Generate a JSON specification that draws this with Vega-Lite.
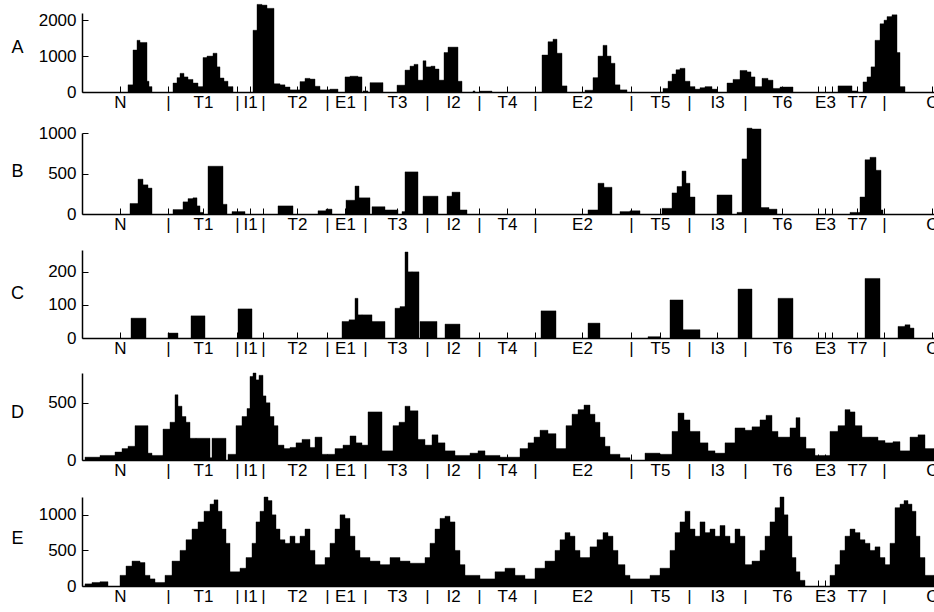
{
  "$schema": "https://vega.github.io/schema/vega-lite/v6.json",
  "padding": {"left": 10, "top": 4, "right": -6, "bottom": 0},
  "background": "white",
  "config": {
    "view": {"stroke": null},
    "font": "Liberation Sans",
    "numberFormat": "d",
    "axis": {
      "grid": false,
      "domainColor": "black",
      "domainWidth": 1.5,
      "tickColor": "black",
      "tickWidth": 1,
      "tickSize": -6,
      "labelColor": "black",
      "labelFont": "Liberation Sans",
      "labelFontSize": 17,
      "labelOverlap": false,
      "labelFlush": false,
      "titleFont": "Liberation Sans",
      "titleFontSize": 18,
      "titleFontWeight": "normal",
      "titleColor": "black"
    },
    "axisX": {"labelPadding": 8},
    "axisY": {"labelPadding": 12, "titleAngle": 0, "titleAlign": "center", "titleBaseline": "middle", "titleX": -65}
  },
  "datasets": {
    "A": [
      {"x0":46,"x1":51,"n":200},{"x0":51,"x1":55,"n":1170},{"x0":55,"x1":58,"n":1440},{"x0":58,"x1":65,"n":1380},{"x0":65,"x1":67,"n":300},{"x0":67,"x1":70,"n":150},
      {"x0":91,"x1":95,"n":250},{"x0":95,"x1":98,"n":400},{"x0":98,"x1":102,"n":520},{"x0":102,"x1":106,"n":420},{"x0":106,"x1":111,"n":350},{"x0":111,"x1":116,"n":250},{"x0":116,"x1":121,"n":150},
      {"x0":121,"x1":125,"n":960},{"x0":125,"x1":131,"n":1000},{"x0":131,"x1":135,"n":1080},{"x0":135,"x1":138,"n":700},{"x0":138,"x1":142,"n":390},{"x0":142,"x1":146,"n":300},{"x0":146,"x1":151,"n":150},
      {"x0":171,"x1":175,"n":1720},{"x0":175,"x1":180,"n":2440},{"x0":180,"x1":185,"n":2420},{"x0":185,"x1":192,"n":2330},{"x0":192,"x1":198,"n":230},{"x0":198,"x1":203,"n":200},{"x0":203,"x1":208,"n":140},{"x0":208,"x1":218,"n":60},
      {"x0":218,"x1":223,"n":290},{"x0":223,"x1":228,"n":380},{"x0":228,"x1":233,"n":360},{"x0":233,"x1":238,"n":160},{"x0":238,"x1":248,"n":60},{"x0":248,"x1":256,"n":80},
      {"x0":263,"x1":268,"n":420},{"x0":268,"x1":276,"n":440},{"x0":276,"x1":280,"n":420},{"x0":281,"x1":286,"n":30},{"x0":288,"x1":301,"n":260},
      {"x0":315,"x1":323,"n":190},{"x0":323,"x1":328,"n":610},{"x0":328,"x1":332,"n":720},{"x0":332,"x1":336,"n":770},{"x0":336,"x1":341,"n":330},{"x0":341,"x1":344,"n":870},{"x0":344,"x1":349,"n":700},{"x0":349,"x1":353,"n":720},{"x0":353,"x1":357,"n":640},{"x0":357,"x1":362,"n":330},
      {"x0":362,"x1":366,"n":1100},{"x0":366,"x1":376,"n":1250},{"x0":376,"x1":380,"n":300},{"x0":391,"x1":393,"n":30},{"x0":398,"x1":410,"n":25},
      {"x0":460,"x1":466,"n":1030},{"x0":466,"x1":471,"n":1400},{"x0":471,"x1":475,"n":1470},{"x0":475,"x1":480,"n":1080},{"x0":480,"x1":485,"n":170},
      {"x0":503,"x1":511,"n":50},{"x0":511,"x1":516,"n":400},{"x0":516,"x1":521,"n":1000},{"x0":521,"x1":525,"n":1300},{"x0":525,"x1":529,"n":1000},{"x0":529,"x1":533,"n":800},{"x0":533,"x1":538,"n":200},{"x0":538,"x1":545,"n":60},
      {"x0":581,"x1":586,"n":100},{"x0":586,"x1":590,"n":300},{"x0":590,"x1":594,"n":500},{"x0":594,"x1":598,"n":620},{"x0":598,"x1":603,"n":660},{"x0":603,"x1":608,"n":300},{"x0":608,"x1":613,"n":150},{"x0":613,"x1":618,"n":80},{"x0":618,"x1":623,"n":120},{"x0":623,"x1":630,"n":150},{"x0":630,"x1":635,"n":80},
      {"x0":645,"x1":651,"n":250},{"x0":651,"x1":658,"n":350},{"x0":658,"x1":665,"n":600},{"x0":665,"x1":669,"n":560},{"x0":669,"x1":673,"n":420},{"x0":673,"x1":680,"n":150},{"x0":680,"x1":686,"n":380},{"x0":686,"x1":691,"n":330},{"x0":691,"x1":698,"n":100},{"x0":698,"x1":711,"n":140},
      {"x0":756,"x1":770,"n":170},{"x0":770,"x1":776,"n":30},
      {"x0":781,"x1":785,"n":280},{"x0":785,"x1":789,"n":420},{"x0":789,"x1":793,"n":700},{"x0":793,"x1":798,"n":1440},{"x0":798,"x1":802,"n":1900},{"x0":802,"x1":805,"n":2000},{"x0":805,"x1":810,"n":2100},{"x0":810,"x1":815,"n":2150},{"x0":815,"x1":818,"n":1100},{"x0":818,"x1":823,"n":150}
    ],
    "B": [
      {"x0":48,"x1":56,"n":130},{"x0":56,"x1":61,"n":430},{"x0":61,"x1":66,"n":360},{"x0":66,"x1":70,"n":320},
      {"x0":91,"x1":101,"n":55},{"x0":101,"x1":106,"n":150},{"x0":106,"x1":111,"n":190},{"x0":111,"x1":115,"n":200},{"x0":115,"x1":118,"n":100},{"x0":118,"x1":121,"n":20},
      {"x0":126,"x1":141,"n":590},{"x0":141,"x1":145,"n":120},{"x0":150,"x1":163,"n":30},{"x0":196,"x1":211,"n":100},
      {"x0":236,"x1":244,"n":40},{"x0":244,"x1":250,"n":60},
      {"x0":264,"x1":273,"n":170},{"x0":273,"x1":277,"n":345},{"x0":277,"x1":288,"n":200},{"x0":290,"x1":303,"n":90},{"x0":303,"x1":316,"n":50},{"x0":320,"x1":323,"n":30},{"x0":323,"x1":336,"n":520},
      {"x0":341,"x1":356,"n":220},{"x0":365,"x1":370,"n":220},{"x0":370,"x1":378,"n":270},{"x0":378,"x1":385,"n":50},
      {"x0":506,"x1":516,"n":50},{"x0":516,"x1":522,"n":380},{"x0":522,"x1":530,"n":330},
      {"x0":538,"x1":548,"n":30},{"x0":548,"x1":558,"n":40},
      {"x0":580,"x1":590,"n":70},{"x0":590,"x1":595,"n":260},{"x0":595,"x1":600,"n":340},{"x0":600,"x1":604,"n":530},{"x0":604,"x1":608,"n":380},{"x0":608,"x1":613,"n":210},
      {"x0":635,"x1":650,"n":235},
      {"x0":655,"x1":660,"n":20},{"x0":660,"x1":665,"n":680},{"x0":665,"x1":670,"n":1060},{"x0":670,"x1":679,"n":1050},{"x0":679,"x1":687,"n":80},{"x0":687,"x1":695,"n":60},
      {"x0":768,"x1":778,"n":20},{"x0":778,"x1":783,"n":210},{"x0":783,"x1":788,"n":670},{"x0":788,"x1":794,"n":700},{"x0":794,"x1":799,"n":540},{"x0":799,"x1":801,"n":50}
    ],
    "C": [
      {"x0":49,"x1":64,"n":60},{"x0":86,"x1":96,"n":15},{"x0":109,"x1":123,"n":67},{"x0":156,"x1":170,"n":88},
      {"x0":260,"x1":267,"n":50},{"x0":267,"x1":273,"n":55},{"x0":273,"x1":276,"n":120},{"x0":276,"x1":280,"n":70},{"x0":280,"x1":290,"n":70},{"x0":290,"x1":303,"n":50},
      {"x0":313,"x1":318,"n":90},{"x0":318,"x1":323,"n":95},{"x0":323,"x1":326,"n":260},{"x0":326,"x1":330,"n":200},{"x0":330,"x1":337,"n":200},{"x0":338,"x1":355,"n":50},
      {"x0":363,"x1":378,"n":42},{"x0":459,"x1":474,"n":82},{"x0":506,"x1":518,"n":45},
      {"x0":566,"x1":578,"n":4},{"x0":588,"x1":601,"n":115},{"x0":601,"x1":618,"n":25},
      {"x0":656,"x1":670,"n":148},{"x0":696,"x1":711,"n":120},{"x0":783,"x1":798,"n":180},
      {"x0":816,"x1":823,"n":35},{"x0":823,"x1":828,"n":40},{"x0":828,"x1":832,"n":30}
    ],
    "D": [
      {"x0":3,"x1":18,"n":25},{"x0":18,"x1":33,"n":40},{"x0":33,"x1":40,"n":70},{"x0":40,"x1":46,"n":100},{"x0":46,"x1":53,"n":120},{"x0":53,"x1":66,"n":300},{"x0":66,"x1":70,"n":60},{"x0":70,"x1":81,"n":40},
      {"x0":81,"x1":88,"n":270},{"x0":88,"x1":93,"n":330},{"x0":93,"x1":96,"n":570},{"x0":96,"x1":100,"n":470},{"x0":100,"x1":104,"n":380},{"x0":104,"x1":108,"n":330},{"x0":108,"x1":114,"n":190},{"x0":114,"x1":128,"n":190},{"x0":128,"x1":130,"n":20},{"x0":130,"x1":144,"n":190},
      {"x0":146,"x1":154,"n":50},{"x0":154,"x1":160,"n":300},{"x0":160,"x1":165,"n":380},{"x0":165,"x1":168,"n":450},{"x0":168,"x1":171,"n":730},{"x0":171,"x1":174,"n":760},{"x0":174,"x1":177,"n":700},{"x0":177,"x1":181,"n":740},{"x0":181,"x1":184,"n":560},{"x0":184,"x1":188,"n":500},{"x0":188,"x1":192,"n":380},{"x0":192,"x1":196,"n":300},
      {"x0":196,"x1":202,"n":130},{"x0":202,"x1":208,"n":100},{"x0":208,"x1":214,"n":110},{"x0":214,"x1":220,"n":150},{"x0":220,"x1":228,"n":180},{"x0":228,"x1":233,"n":110},{"x0":233,"x1":240,"n":200},{"x0":240,"x1":253,"n":50},
      {"x0":253,"x1":261,"n":100},{"x0":261,"x1":268,"n":130},{"x0":268,"x1":274,"n":210},{"x0":274,"x1":280,"n":150},{"x0":280,"x1":286,"n":130},{"x0":286,"x1":300,"n":420},{"x0":300,"x1":311,"n":80},
      {"x0":311,"x1":317,"n":300},{"x0":317,"x1":323,"n":330},{"x0":323,"x1":328,"n":470},{"x0":328,"x1":336,"n":430},{"x0":336,"x1":343,"n":180},{"x0":343,"x1":350,"n":130},{"x0":350,"x1":356,"n":220},{"x0":356,"x1":363,"n":150},{"x0":363,"x1":373,"n":80},
      {"x0":373,"x1":388,"n":40},{"x0":388,"x1":396,"n":60},{"x0":396,"x1":403,"n":80},{"x0":403,"x1":418,"n":40},{"x0":418,"x1":438,"n":25},
      {"x0":438,"x1":446,"n":100},{"x0":446,"x1":452,"n":150},{"x0":452,"x1":458,"n":200},{"x0":458,"x1":466,"n":260},{"x0":466,"x1":474,"n":230},{"x0":474,"x1":484,"n":100},
      {"x0":484,"x1":490,"n":300},{"x0":490,"x1":496,"n":400},{"x0":496,"x1":502,"n":440},{"x0":502,"x1":508,"n":480},{"x0":508,"x1":513,"n":400},{"x0":513,"x1":518,"n":330},{"x0":518,"x1":523,"n":200},{"x0":523,"x1":528,"n":120},{"x0":528,"x1":538,"n":50},{"x0":538,"x1":548,"n":20},
      {"x0":563,"x1":578,"n":60},{"x0":578,"x1":590,"n":50},
      {"x0":590,"x1":596,"n":250},{"x0":596,"x1":602,"n":410},{"x0":602,"x1":608,"n":350},{"x0":608,"x1":618,"n":250},{"x0":618,"x1":626,"n":150},{"x0":626,"x1":633,"n":80},{"x0":633,"x1":643,"n":60},
      {"x0":643,"x1":653,"n":150},{"x0":653,"x1":663,"n":280},{"x0":663,"x1":670,"n":260},{"x0":670,"x1":678,"n":290},{"x0":678,"x1":684,"n":350},{"x0":684,"x1":690,"n":390},{"x0":690,"x1":696,"n":250},{"x0":696,"x1":708,"n":200},{"x0":708,"x1":714,"n":280},{"x0":714,"x1":718,"n":370},{"x0":718,"x1":724,"n":200},{"x0":724,"x1":733,"n":100},{"x0":733,"x1":748,"n":40},
      {"x0":748,"x1":756,"n":250},{"x0":756,"x1":763,"n":300},{"x0":763,"x1":768,"n":440},{"x0":768,"x1":773,"n":420},{"x0":773,"x1":780,"n":300},{"x0":780,"x1":788,"n":200},{"x0":788,"x1":796,"n":200},{"x0":796,"x1":803,"n":170},{"x0":803,"x1":811,"n":150},{"x0":811,"x1":818,"n":160},{"x0":818,"x1":828,"n":80},
      {"x0":828,"x1":836,"n":200},{"x0":836,"x1":843,"n":220},{"x0":843,"x1":852,"n":100}
    ],
    "E": [
      {"x0":3,"x1":10,"n":30},{"x0":10,"x1":18,"n":50},{"x0":18,"x1":26,"n":60},
      {"x0":38,"x1":44,"n":150},{"x0":44,"x1":50,"n":280},{"x0":50,"x1":58,"n":350},{"x0":58,"x1":63,"n":330},{"x0":63,"x1":68,"n":150},{"x0":68,"x1":73,"n":100},{"x0":73,"x1":83,"n":50},
      {"x0":83,"x1":90,"n":150},{"x0":90,"x1":98,"n":350},{"x0":98,"x1":104,"n":500},{"x0":104,"x1":110,"n":650},{"x0":110,"x1":116,"n":800},{"x0":116,"x1":122,"n":900},{"x0":122,"x1":128,"n":1050},{"x0":128,"x1":132,"n":1150},{"x0":132,"x1":136,"n":1210},{"x0":136,"x1":140,"n":1050},{"x0":140,"x1":144,"n":800},{"x0":144,"x1":148,"n":600},{"x0":148,"x1":158,"n":200},
      {"x0":158,"x1":164,"n":250},{"x0":164,"x1":170,"n":400},{"x0":170,"x1":174,"n":600},{"x0":174,"x1":178,"n":900},{"x0":178,"x1":182,"n":1050},{"x0":182,"x1":186,"n":1250},{"x0":186,"x1":190,"n":1200},{"x0":190,"x1":194,"n":1000},{"x0":194,"x1":198,"n":800},{"x0":198,"x1":203,"n":650},{"x0":203,"x1":208,"n":600},{"x0":208,"x1":213,"n":700},{"x0":213,"x1":218,"n":600},{"x0":218,"x1":223,"n":700},{"x0":223,"x1":228,"n":800},{"x0":228,"x1":233,"n":500},{"x0":233,"x1":243,"n":300},
      {"x0":243,"x1":248,"n":400},{"x0":248,"x1":253,"n":600},{"x0":253,"x1":258,"n":800},{"x0":258,"x1":263,"n":1000},{"x0":263,"x1":268,"n":950},{"x0":268,"x1":273,"n":700},{"x0":273,"x1":278,"n":500},{"x0":278,"x1":288,"n":400},{"x0":288,"x1":298,"n":350},{"x0":298,"x1":308,"n":300},{"x0":308,"x1":318,"n":400},{"x0":318,"x1":328,"n":350},{"x0":328,"x1":343,"n":320},
      {"x0":343,"x1":348,"n":400},{"x0":348,"x1":353,"n":600},{"x0":353,"x1":358,"n":800},{"x0":358,"x1":363,"n":950},{"x0":363,"x1":368,"n":980},{"x0":368,"x1":373,"n":900},{"x0":373,"x1":378,"n":500},{"x0":378,"x1":383,"n":300},{"x0":383,"x1":398,"n":150},{"x0":398,"x1":413,"n":100},
      {"x0":413,"x1":423,"n":200},{"x0":423,"x1":433,"n":250},{"x0":433,"x1":443,"n":150},{"x0":443,"x1":453,"n":100},{"x0":453,"x1":463,"n":250},{"x0":463,"x1":473,"n":350},{"x0":473,"x1":478,"n":500},{"x0":478,"x1":483,"n":650},{"x0":483,"x1":488,"n":750},{"x0":488,"x1":493,"n":700},{"x0":493,"x1":498,"n":500},{"x0":498,"x1":508,"n":400},
      {"x0":508,"x1":515,"n":550},{"x0":515,"x1":521,"n":650},{"x0":521,"x1":526,"n":750},{"x0":526,"x1":531,"n":700},{"x0":531,"x1":536,"n":500},{"x0":536,"x1":543,"n":300},{"x0":543,"x1":548,"n":150},{"x0":548,"x1":568,"n":100},{"x0":568,"x1":578,"n":150},{"x0":578,"x1":588,"n":250},
      {"x0":588,"x1":593,"n":500},{"x0":593,"x1":598,"n":750},{"x0":598,"x1":603,"n":900},{"x0":603,"x1":608,"n":1050},{"x0":608,"x1":613,"n":800},{"x0":613,"x1":618,"n":700},{"x0":618,"x1":623,"n":900},{"x0":623,"x1":628,"n":750},{"x0":628,"x1":633,"n":800},{"x0":633,"x1":638,"n":700},{"x0":638,"x1":643,"n":850},{"x0":643,"x1":648,"n":700},{"x0":648,"x1":653,"n":600},{"x0":653,"x1":658,"n":800},{"x0":658,"x1":663,"n":700},{"x0":663,"x1":670,"n":300},
      {"x0":670,"x1":678,"n":350},{"x0":678,"x1":683,"n":500},{"x0":683,"x1":688,"n":700},{"x0":688,"x1":693,"n":900},{"x0":693,"x1":698,"n":1100},{"x0":698,"x1":702,"n":1250},{"x0":702,"x1":706,"n":1000},{"x0":706,"x1":710,"n":700},{"x0":710,"x1":714,"n":400},{"x0":714,"x1":718,"n":200},{"x0":718,"x1":723,"n":80},
      {"x0":748,"x1":753,"n":150},{"x0":753,"x1":758,"n":300},{"x0":758,"x1":763,"n":500},{"x0":763,"x1":768,"n":700},{"x0":768,"x1":773,"n":800},{"x0":773,"x1":778,"n":750},{"x0":778,"x1":783,"n":650},{"x0":783,"x1":788,"n":600},{"x0":788,"x1":793,"n":500},{"x0":793,"x1":798,"n":550},{"x0":798,"x1":803,"n":400},{"x0":803,"x1":808,"n":300},
      {"x0":808,"x1":813,"n":600},{"x0":813,"x1":818,"n":1100},{"x0":818,"x1":822,"n":1150},{"x0":822,"x1":826,"n":1200},{"x0":826,"x1":830,"n":1150},{"x0":830,"x1":834,"n":1050},{"x0":834,"x1":838,"n":700},{"x0":838,"x1":843,"n":400},{"x0":843,"x1":852,"n":150}
    ]
  },
  "bounds": "flush",
  "spacing": 41,
  "vconcat": [
    {
      "data": {"name": "A"},
      "width": 858, "height": 79,
      "mark": {"type": "rect", "color": "black", "stroke": "black", "strokeWidth": 0.4},
      "encoding": {
        "x": {"field": "x0", "type": "quantitative", "scale": {"domain": [0, 858], "nice": false, "zero": false},
              "axis": {"title": null, "values": [38,86,121,155,168,181,215,245,263,283,315,345,371,397,425,453,500,549,578,607,635,663,700,736,743,750,775,802,850],
                       "labelExpr": "['N','|','T1','|','I1','|','T2','|','E1','|','T3','|','I2','|','T4','|','E2','|','T5','|','I3','|','T6','','E3','','T7','|','C'][indexof([38,86,121,155,168,181,215,245,263,283,315,345,371,397,425,453,500,549,578,607,635,663,700,736,743,750,775,802,850], datum.value)]"}},
        "x2": {"field": "x1"},
        "y": {"field": "n", "type": "quantitative", "scale": {"domain": [0, 2200], "nice": false},
              "axis": {"title": "A", "titleY": 34, "values": [0, 1000, 2000], "format": "d"}},
        "y2": {"datum": 0}
      }
    },
    {
      "bounds": "flush",
      "spacing": 36,
      "vconcat": [
        {
          "data": {"name": "B"},
          "width": 858, "height": 81,
          "mark": {"type": "rect", "color": "black", "stroke": "black", "strokeWidth": 0.4},
          "encoding": {
            "x": {"field": "x0", "type": "quantitative", "scale": {"domain": [0, 858], "nice": false, "zero": false},
                  "axis": {"title": null, "values": [38,86,121,155,168,181,215,245,263,283,315,345,371,397,425,453,500,549,578,607,635,663,700,736,743,750,775,802,850],
                           "labelExpr": "['N','|','T1','|','I1','|','T2','|','E1','|','T3','|','I2','|','T4','|','E2','|','T5','|','I3','|','T6','','E3','','T7','|','C'][indexof([38,86,121,155,168,181,215,245,263,283,315,345,371,397,425,453,500,549,578,607,635,663,700,736,743,750,775,802,850], datum.value)]"}},
            "x2": {"field": "x1"},
            "y": {"field": "n", "type": "quantitative", "scale": {"domain": [0, 1000], "nice": false},
                  "axis": {"title": "B", "titleY": 38, "values": [0, 500, 1000], "format": "d"}},
            "y2": {"datum": 0}
          }
        },
        {
          "bounds": "flush",
          "spacing": 35,
          "vconcat": [
            {
              "data": {"name": "C"},
              "width": 858, "height": 88,
              "mark": {"type": "rect", "color": "black", "stroke": "black", "strokeWidth": 0.4},
              "encoding": {
                "x": {"field": "x0", "type": "quantitative", "scale": {"domain": [0, 858], "nice": false, "zero": false},
                      "axis": {"title": null, "values": [38,86,121,155,168,181,215,245,263,283,315,345,371,397,425,453,500,549,578,607,635,663,700,736,743,750,775,802,850],
                               "labelExpr": "['N','|','T1','|','I1','|','T2','|','E1','|','T3','|','I2','|','T4','|','E2','|','T5','|','I3','|','T6','','E3','','T7','|','C'][indexof([38,86,121,155,168,181,215,245,263,283,315,345,371,397,425,453,500,549,578,607,635,663,700,736,743,750,775,802,850], datum.value)]"}},
                "x2": {"field": "x1"},
                "y": {"field": "n", "type": "quantitative", "scale": {"domain": [0, 266], "nice": false},
                      "axis": {"title": "C", "titleY": 43, "values": [0, 100, 200], "format": "d"}},
                "y2": {"datum": 0}
              }
            },
            {
              "bounds": "flush",
              "spacing": 37,
              "vconcat": [
                {
                  "data": {"name": "D"},
                  "width": 858, "height": 87,
                  "mark": {"type": "rect", "color": "black", "stroke": "black", "strokeWidth": 0.4},
                  "encoding": {
                    "x": {"field": "x0", "type": "quantitative", "scale": {"domain": [0, 858], "nice": false, "zero": false},
                          "axis": {"title": null, "values": [38,86,121,155,168,181,215,245,263,283,315,345,371,397,425,453,500,549,578,607,635,663,700,736,743,750,775,802,850],
                                   "labelExpr": "['N','|','T1','|','I1','|','T2','|','E1','|','T3','|','I2','|','T4','|','E2','|','T5','|','I3','|','T6','','E3','','T7','|','C'][indexof([38,86,121,155,168,181,215,245,263,283,315,345,371,397,425,453,500,549,578,607,635,663,700,736,743,750,775,802,850], datum.value)]"}},
                    "x2": {"field": "x1"},
                    "y": {"field": "n", "type": "quantitative", "scale": {"domain": [0, 760], "nice": false},
                          "axis": {"title": "D", "titleY": 39, "values": [0, 500], "format": "d"}},
                    "y2": {"datum": 0}
                  }
                },
                {
                  "data": {"name": "E"},
                  "width": 858, "height": 89,
                  "mark": {"type": "rect", "color": "black", "stroke": "black", "strokeWidth": 0.4},
                  "encoding": {
                    "x": {"field": "x0", "type": "quantitative", "scale": {"domain": [0, 858], "nice": false, "zero": false},
                          "axis": {"title": null, "values": [38,86,121,155,168,181,215,245,263,283,315,345,371,397,425,453,500,549,578,607,635,663,700,736,743,750,775,802,850],
                                   "labelExpr": "['N','|','T1','|','I1','|','T2','|','E1','|','T3','|','I2','|','T4','|','E2','|','T5','|','I3','|','T6','','E3','','T7','|','C'][indexof([38,86,121,155,168,181,215,245,263,283,315,345,371,397,425,453,500,549,578,607,635,663,700,736,743,750,775,802,850], datum.value)]"}},
                    "x2": {"field": "x1"},
                    "y": {"field": "n", "type": "quantitative", "scale": {"domain": [0, 1250], "nice": false},
                          "axis": {"title": "E", "titleY": 41, "values": [0, 500, 1000], "format": "d"}},
                    "y2": {"datum": 0}
                  }
                }
              ]
            }
          ]
        }
      ]
    }
  ]
}
